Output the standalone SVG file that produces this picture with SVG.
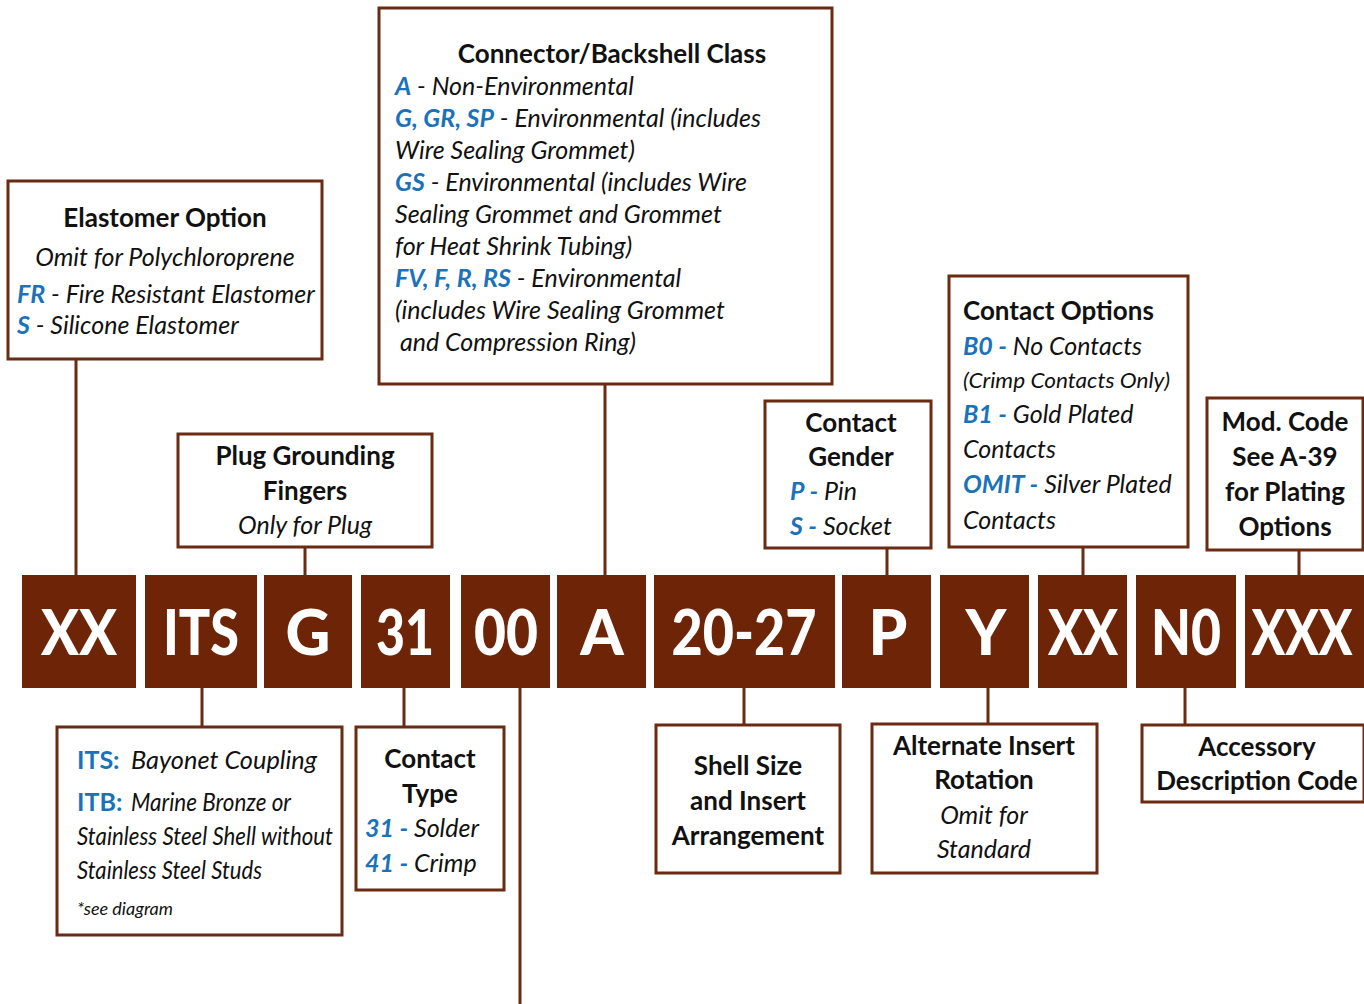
<svg xmlns="http://www.w3.org/2000/svg" width="1364" height="1004" viewBox="0 0 1364 1004">
<style>
.box{fill:#fff;stroke:#6b2a12;stroke-width:3}
.code{fill:#6e2407}
.ct{font-family:Lato,"Liberation Sans",sans-serif;font-weight:900;font-size:62px;fill:#fff;text-anchor:middle}
.t{font-family:Lato,"Liberation Sans",sans-serif;font-size:25px;fill:#111}
.h{font-weight:bold;font-size:26px}
.c{text-anchor:middle}
.i{font-style:italic}
.bl{fill:#1a72bb;font-style:italic;font-weight:bold}
.bu{fill:#1a72bb;font-weight:bold;font-style:normal}
.conn line{stroke:#6b2a12;stroke-width:3}
</style>
<g class="conn">
<line x1="76" y1="360" x2="76" y2="575"/>
<line x1="305" y1="547" x2="305" y2="575"/>
<line x1="605" y1="385" x2="605" y2="575"/>
<line x1="887" y1="548" x2="887" y2="575"/>
<line x1="1083" y1="547" x2="1083" y2="575"/>
<line x1="1299" y1="550" x2="1299" y2="575"/>
<line x1="202" y1="688" x2="202" y2="727"/>
<line x1="404" y1="688" x2="404" y2="727"/>
<line x1="520" y1="688" x2="520" y2="1004"/>
<line x1="744" y1="688" x2="744" y2="725"/>
<line x1="988" y1="688" x2="988" y2="724"/>
<line x1="1185" y1="688" x2="1185" y2="725"/>
</g>
<g id="codes">
<g id="c-xx"><rect class="code" x="22" y="575" width="114" height="113"/><text class="ct" x="79" y="655" textLength="76" lengthAdjust="spacingAndGlyphs">XX</text></g>
<g id="c-its"><rect class="code" x="145" y="575" width="112" height="113"/><text class="ct" x="201" y="655" textLength="76" lengthAdjust="spacingAndGlyphs">ITS</text></g>
<g id="c-g"><rect class="code" x="264" y="575" width="88" height="113"/><text class="ct" x="308" y="655">G</text></g>
<g id="c-31"><rect class="code" x="361" y="575" width="89" height="113"/><text class="ct" x="405" y="655" textLength="58" lengthAdjust="spacingAndGlyphs">31</text></g>
<g id="c-00"><rect class="code" x="461" y="575" width="89" height="113"/><text class="ct" x="506" y="655" textLength="64" lengthAdjust="spacingAndGlyphs">00</text></g>
<g id="c-a"><rect class="code" x="557" y="575" width="89" height="113"/><text class="ct" x="602" y="655">A</text></g>
<g id="c-size"><rect class="code" x="654" y="575" width="181" height="113"/><text class="ct" x="744" y="655" textLength="145" lengthAdjust="spacingAndGlyphs">20-27</text></g>
<g id="c-p"><rect class="code" x="842" y="575" width="89" height="113"/><text class="ct" x="888" y="655">P</text></g>
<g id="c-y"><rect class="code" x="940" y="575" width="89" height="113"/><text class="ct" x="986" y="655">Y</text></g>
<g id="c-xx2"><rect class="code" x="1038" y="575" width="89" height="113"/><text class="ct" x="1083" y="655" textLength="70" lengthAdjust="spacingAndGlyphs">XX</text></g>
<g id="c-n0"><rect class="code" x="1136" y="575" width="100" height="113"/><text class="ct" x="1186" y="655" textLength="70" lengthAdjust="spacingAndGlyphs">N0</text></g>
<g id="c-xxx"><rect class="code" x="1245" y="575" width="119" height="113"/><text class="ct" transform="translate(1302,655) scale(0.8,1)" x="0" y="0">XXX</text></g>
</g>
<g id="elastomer">
<rect class="box" x="8" y="181" width="314" height="178"/>
<text class="t h c" x="165" y="227">Elastomer Option</text>
<text class="t i c" x="165" y="266">Omit for Polychloroprene</text>
<text class="t i" x="17" y="303"><tspan class="bl">FR</tspan> - Fire Resistant Elastomer</text>
<text class="t i" x="17" y="334"><tspan class="bl">S</tspan> - Silicone Elastomer</text>
</g>
<g id="backshell">
<rect class="box" x="379" y="8" width="453" height="376"/>
<text class="t h c" x="612" y="63">Connector/Backshell Class</text>
<text class="t i" x="395" y="95"><tspan class="bl">A</tspan> - Non-Environmental</text>
<text class="t i" x="395" y="127"><tspan class="bl">G, GR, SP</tspan> - Environmental (includes</text>
<text class="t i" x="395" y="159">Wire Sealing Grommet)</text>
<text class="t i" x="395" y="191"><tspan class="bl">GS</tspan> - Environmental (includes Wire</text>
<text class="t i" x="395" y="223">Sealing Grommet and Grommet</text>
<text class="t i" x="395" y="255">for Heat Shrink Tubing)</text>
<text class="t i" x="395" y="287"><tspan class="bl">FV, F, R, RS</tspan> - Environmental</text>
<text class="t i" x="395" y="319">(includes Wire Sealing Grommet</text>
<text class="t i" x="400" y="351">and Compression Ring)</text>
</g>
<g id="plug">
<rect class="box" x="178" y="434" width="254" height="113"/>
<text class="t h c" x="305" y="465">Plug Grounding</text>
<text class="t h c" x="305" y="500">Fingers</text>
<text class="t i c" x="305" y="534">Only for Plug</text>
</g>
<g id="gender">
<rect class="box" x="765" y="401" width="166" height="147"/>
<text class="t h c" x="851" y="432">Contact</text>
<text class="t h c" x="851" y="466">Gender</text>
<text class="t i" x="790" y="500"><tspan class="bl">P -</tspan> Pin</text>
<text class="t i" x="790" y="535"><tspan class="bl">S -</tspan> Socket</text>
</g>
<g id="options">
<rect class="box" x="949" y="276" width="239" height="271"/>
<text class="t h" x="963" y="320">Contact Options</text>
<text class="t i" x="963" y="355"><tspan class="bl">B0 -</tspan> No Contacts</text>
<text class="t i" x="963" y="388" style="font-size:21px" textLength="207" lengthAdjust="spacingAndGlyphs">(Crimp Contacts Only)</text>
<text class="t i" x="963" y="423"><tspan class="bl">B1 -</tspan> Gold Plated</text>
<text class="t i" x="963" y="458">Contacts</text>
<text class="t i" x="963" y="493"><tspan class="bl">OMIT -</tspan> Silver Plated</text>
<text class="t i" x="963" y="529">Contacts</text>
</g>
<g id="modcode">
<rect class="box" x="1207" y="398" width="156" height="152"/>
<text class="t h c" x="1285" y="431">Mod. Code</text>
<text class="t h c" x="1285" y="466">See A-39</text>
<text class="t h c" x="1285" y="501">for Plating</text>
<text class="t h c" x="1285" y="536">Options</text>
</g>
<g id="coupling">
<rect class="box" x="57" y="727" width="285" height="208"/>
<text class="t" x="77" y="769"><tspan class="bu">ITS:</tspan></text>
<text class="t i" x="131" y="769" textLength="186" lengthAdjust="spacingAndGlyphs">Bayonet Coupling</text>
<text class="t" x="77" y="811"><tspan class="bu">ITB:</tspan></text>
<text class="t i" x="131" y="811" textLength="160" lengthAdjust="spacingAndGlyphs">Marine Bronze or</text>
<text class="t i" x="77" y="845" textLength="256" lengthAdjust="spacingAndGlyphs">Stainless Steel Shell without</text>
<text class="t i" x="77" y="879" textLength="185" lengthAdjust="spacingAndGlyphs">Stainless Steel Studs</text>
<text class="t i" x="77" y="915" style="font-size:18px">*see diagram</text>
</g>
<g id="ctype">
<rect class="box" x="356" y="727" width="148" height="163"/>
<text class="t h c" x="430" y="768">Contact</text>
<text class="t h c" x="430" y="803">Type</text>
<text class="t i" x="365" y="837"><tspan class="bl">31 -</tspan> Solder</text>
<text class="t i" x="365" y="872"><tspan class="bl">41 -</tspan> Crimp</text>
</g>
<g id="shell">
<rect class="box" x="656" y="725" width="184" height="148"/>
<text class="t h c" x="748" y="775">Shell Size</text>
<text class="t h c" x="748" y="810">and Insert</text>
<text class="t h c" x="748" y="845">Arrangement</text>
</g>
<g id="rotation">
<rect class="box" x="872" y="724" width="225" height="149"/>
<text class="t h c" x="984" y="755">Alternate Insert</text>
<text class="t h c" x="984" y="789">Rotation</text>
<text class="t i c" x="984" y="824">Omit for</text>
<text class="t i c" x="984" y="858">Standard</text>
</g>
<g id="accessory">
<rect class="box" x="1142" y="725" width="222" height="77"/>
<text class="t h c" x="1257" y="756">Accessory</text>
<text class="t h c" x="1257" y="790">Description Code</text>
</g>
</svg>
